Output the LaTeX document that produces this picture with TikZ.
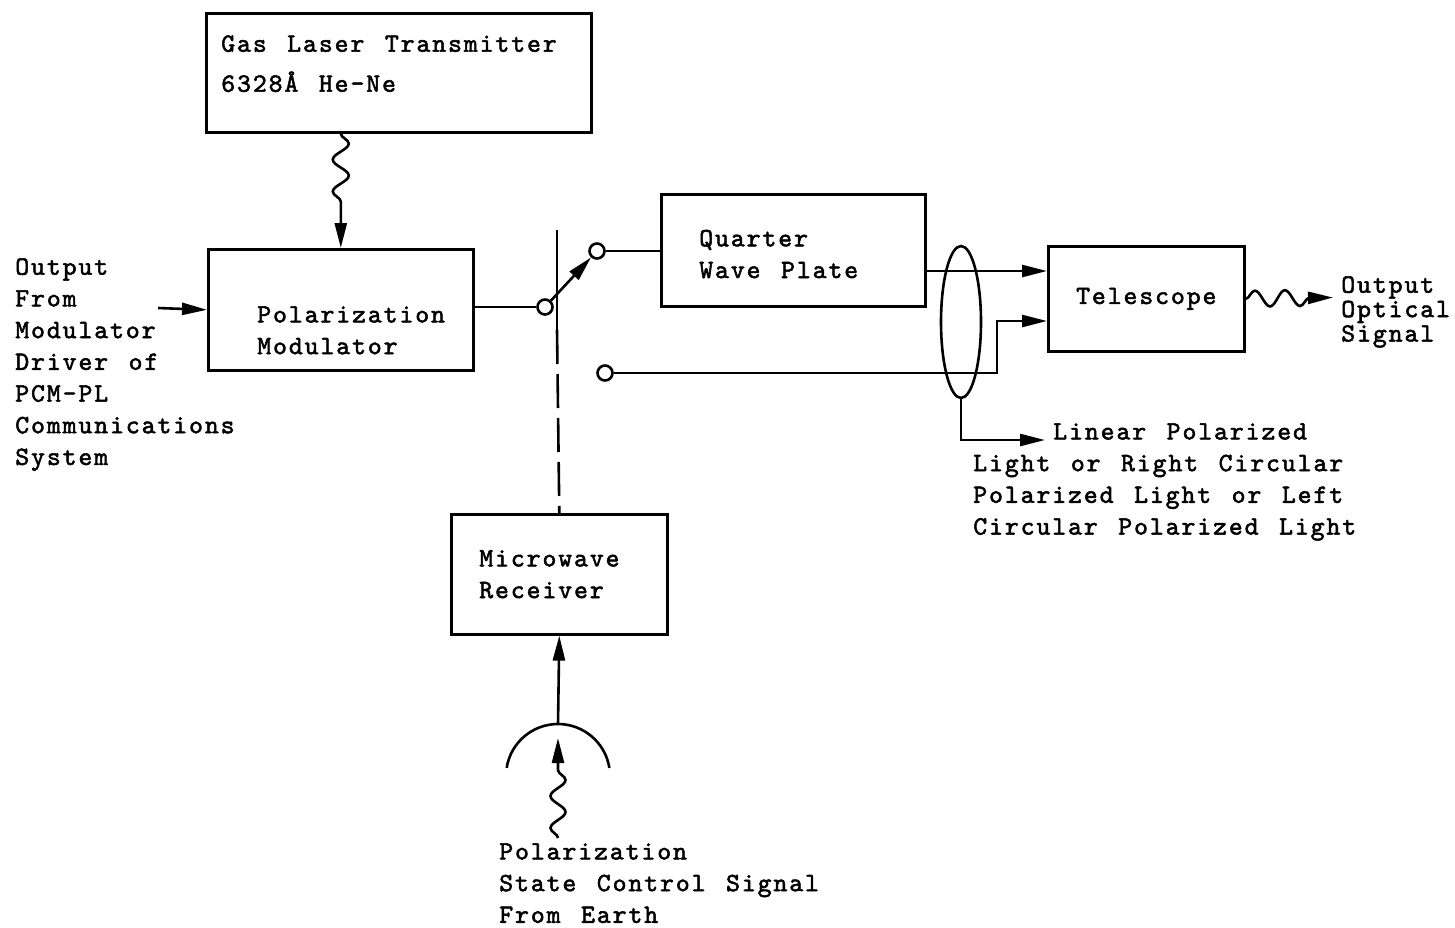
\documentclass[tikz,border=0pt]{standalone}
\usepackage{fontspec}
\setmonofont{lmmono10-regular.otf}[LetterSpace=7.35, WordSpace=1.3, FakeBold=2]
\usepackage{tikz}
\usetikzlibrary{shapes.geometric, arrows.meta, positioning, decorations.pathmorphing}

\begin{document}
\begin{tikzpicture}[
    x=0.5pt, y=0.5pt,
    line width=1.3pt,
    font=\fontsize{13.2pt}{15.85pt}\selectfont\ttfamily,
    unit/.style={rectangle, draw, anchor=north west, align=left},
    txt/.style={anchor=north west, align=left, inner sep=0pt},
    port/.style={circle, draw, fill=white, inner sep=0pt, minimum size=7.5pt},
    arrow/.style={-{Triangle[length=12.5pt, width=6pt]}},
    wave/.style={decorate, decoration={snake, amplitude=4pt, segment length=16pt, post length=#1}},
    wave/.default=0pt,
  ]
  \useasboundingbox (0,0) rectangle (1455,-927);

  % blocks
  \node[unit, minimum width=192.5pt, minimum height=59.5pt] (gas) at (205,-12) {};
  \node[txt, below right=11pt and 7.5pt of gas.north west] (gas_txt) {Gas Laser Transmitter\\[4.15pt]6328Å He-Ne};
  \node[unit, minimum width=132.5pt, minimum height=60.5pt] (mod) at (207,-248) {};
  \node[txt, below right=28.5pt and 24.5pt of mod.north west] (mod_txt) {Polarization\\Modulator};
  \node[unit, minimum width=132pt, minimum height=56pt] (qwp) at (660,-193) {};
  \node[txt, below right=17.8pt and 19pt of qwp.north west] (qwp_txt) {Quarter\\Wave Plate};
  \node[rectangle, draw, anchor=north west, minimum width=98pt, minimum height=52.5pt] (tel) at (1047,-245) {Telescope};
  \node[unit, minimum width=108pt, minimum height=60pt, inner xsep=14pt, text width=80pt] (mw) at (450,-513) {Microwave\\Receiver};

  % switch contacts
  \node[port] (sw_in) at (545,-307) {};
  \node[port] (sw_a) at (597,-251) {};
  \node[port] (sw_b) at (605,-373) {};
  \node[ellipse, draw, minimum width=20pt, minimum height=76pt, inner sep=0pt] (bundle) at (961,-322) {};

  \coordinate (in_src) at (158,-308);
  \coordinate (tel_a) at (1047,-271);
  \coordinate (tel_b) at (1047,-321);
  \coordinate (lp_end) at (1045,-440);
  \coordinate (out_tip) at (1333,-297.5);
  \coordinate (sw_top) at (557,-230);
  \coordinate (sw_mid) at (557,-330);
  \coordinate (dish) at (558,-724);
  \coordinate (sig_src) at (558,-838);
  \coordinate (sig_tip) at (558,-738);

  % labels
  \node[txt] (src_txt) at (14,-257) {Output\\From\\Modulator\\Driver of\\PCM-PL\\Communications\\System};
  \node[txt] (lp_txt) at (972,-422) {\hspace*{40pt}Linear Polarized\\Light or Right Circular\\Polarized Light or Left\\Circular Polarized Light};
  \node[txt, font=\fontsize{13.2pt}{12.2pt}\selectfont\ttfamily] (out_txt) at (1340,-275) {Output\\Optical\\Signal};
  \node[txt] (sig_txt) at (498,-842) {Polarization\\State Control Signal\\From Earth};

  % connections
  \draw[arrow, wave=17.5pt] (mod.north |- gas.south) -- (mod.north);
  \draw[arrow] (in_src) -- (mod.west);
  \draw (mod.east |- sw_in) -- (sw_in);
  \draw[arrow] (sw_in) -- (sw_a);
  \draw (sw_a) -- (sw_a -| qwp.west);
  \draw[arrow] (qwp.east |- tel_a) -- (tel_a);
  \draw[arrow] (sw_b) -- ++(392,0) |- (tel_b);
  \draw[arrow] (bundle.south) |- (lp_end);
  \draw[arrow, wave=11pt, decoration={segment length=15pt, amplitude=4pt}] (tel.east) -- (out_tip);

  \draw (sw_top) -- (sw_mid);
  \draw[dash pattern=on 17pt off 5pt] (sw_mid) -- (mw.north);

  % antenna
  \draw (dish) arc[start angle=90, end angle=9, radius=52] (dish) arc[start angle=90, end angle=171, radius=52];
  \draw[arrow] (dish) -- (mw.south);
  \draw[arrow, wave=13pt, decoration={amplitude=3.75pt, segment length=16pt}] (sig_src) -- (sig_tip);

\end{tikzpicture}
\end{document}
